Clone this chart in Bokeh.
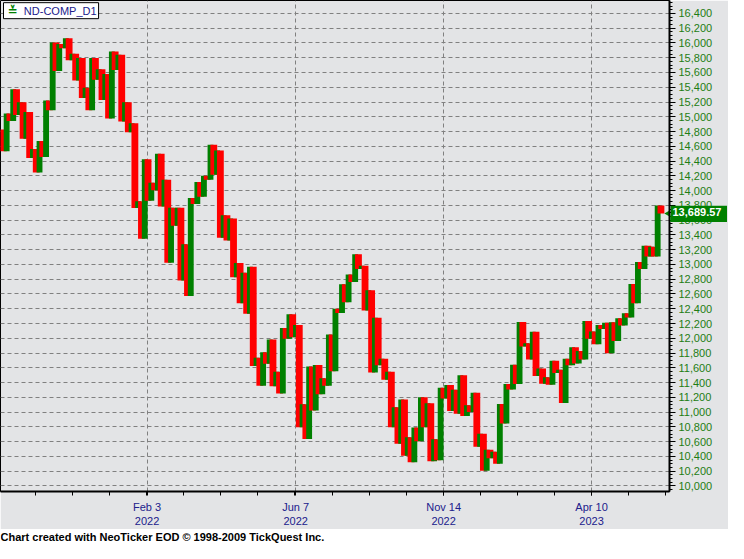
import numpy as np
from bokeh.plotting import figure
from bokeh.models import Range1d, FixedTicker, Label, ColumnDataSource, NumeralTickFormatter
from bokeh.layouts import column
from bokeh.embed import file_html
from bokeh.resources import INLINE

# ---- data: alternating low / high turning points of consecutive bars ----
start_value = 14826
lows = [14533, 14942, 15023, 14703, 14441, 14244, 14454, 15089, 15621, 15928,
        15765, 15490, 15254, 15089, 15503, 15228, 14978, 15634, 14935, 14791,
        13764, 13348, 13864, 14004, 13785, 13024, 13523, 12784, 12574, 13820,
        13916, 14148, 14214, 13361, 13326, 12828, 12473, 12334, 11626, 11359,
        11656, 11351, 11254, 11993, 12014, 10795, 10637, 11023, 11241, 11359,
        11555, 12342, 12487, 12762, 12938, 12378, 11538, 11634, 11437, 10795,
        10572, 10410, 10323, 10607, 10795, 10336, 10349, 11184, 11014, 10978,
        10948, 11001, 10532, 10205, 10375, 10302, 10847, 11306, 11381, 11889,
        11713, 11490, 11385, 11372, 11529, 11123, 11634, 11660, 11713, 11993,
        11919, 12125, 11797, 11962, 12172, 12282, 12473, 12938, 13108, 13108]
highs = [15044, 15372, 15198, 15066, 14564, 14673, 15220, 16007, 15984, 16063,
         15853, 15797, 15394, 15797, 15643, 15578, 15883, 15840, 15198, 14913,
         13856, 14424, 14105, 14498, 14148, 13768, 13768, 13273, 13899, 14118,
         14201, 14620, 14542, 13667, 13624, 13020, 12889, 12968, 11735, 11810,
         11984, 11548, 12138, 12325, 12181, 11106, 11617, 11639, 11460, 12050,
         12400, 12732, 12863, 13138, 12981, 12649, 12277, 11722, 11548, 11066,
         11171, 10660, 10791, 11201, 11119, 10633, 11329, 11368, 11302, 11499,
         11092, 11263, 10708, 10489, 10463, 11110, 11381, 11643, 12220, 11932,
         12089, 11591, 11473, 11696, 11574, 11722, 11879, 11827, 12233, 12093,
         12181, 12211, 12216, 12273, 12338, 12736, 13034, 13253, 13239, 13798]
last_close = 13689.57

x_major = [43.7, 88.9, 133.9, 178.9]
x_major_labels = ["Feb 3\n2022", "Jun 7\n2022", "Nov 14\n2022", "Apr 10\n2023"]
x_minor_first, x_minor_step, x_minor_count = 9.8, 11.27, 18
y_ticks = list(range(10000, 16401, 200))
y_minor = list(range(9950, 16551, 50))

# ---- build the bar chain ----
chain = [start_value]
for lo, hi in zip(lows, highs):
    chain += [lo, hi]
chain.append(last_close)
chain = np.array(chain, dtype=float)
a, b = chain[:-1], chain[1:]
idx = np.arange(len(a))
up = b > a
w = np.where(up, 1.78, 2.08)
src = ColumnDataSource(dict(
    left=idx - w / 2, right=idx + w / 2,
    top=np.maximum(a, b), bottom=np.minimum(a, b),
    color=["#008000" if u else "#ff0000" for u in up]))

BG = "#e3e4e6"
NAVY = "#20208c"
GREEN_TXT = "#1e7d14"
FONT = "Liberation Sans"

W, H_MAIN = 728, 529
FW, FH = 669, 492
X0, X1 = -0.87, 202.6
Y0, Y1 = 9925.2, 16574.6
px_x = (X1 - X0) / FW
px_y = (Y1 - Y0) / FH

p = figure(width=W, height=H_MAIN, x_range=Range1d(X0, X1), y_range=Range1d(Y0, Y1),
           output_backend="svg", toolbar_location=None, y_axis_location="right",
           min_border_left=0, min_border_top=0, min_border_right=W - FW,
           min_border_bottom=H_MAIN - FH,
           background_fill_color=BG, border_fill_color=BG,
           outline_line_color="black", outline_line_width=1)

p.quad(source=src, left="left", right="right", top="top", bottom="bottom",
       fill_color="color", line_color=None)

# pointer of the last-price tag at the frame's right edge
p.scatter(x=[X1], y=[last_close], marker="triangle", angle=np.pi / 2, size=9,
          fill_color="#008000", line_color=None)

# grid
for g in (p.xgrid, p.ygrid):
    g.grid_line_color = "#808080"
    g.grid_line_dash = "4 3"
    g.grid_line_width = 1

# x axis
xa = p.xaxis[0]
xa.ticker = FixedTicker(ticks=x_major,
                        minor_ticks=[x_minor_first + x_minor_step * m for m in range(x_minor_count)])
xa.major_label_overrides = {t: lab for t, lab in zip(x_major, x_major_labels)}
xa.axis_line_width = 2
xa.axis_line_color = "black"
xa.major_tick_out = 4
xa.minor_tick_out = 4
xa.major_tick_in = 0
xa.minor_tick_in = 0
xa.major_tick_line_color = "black"
xa.minor_tick_line_color = "black"
xa.major_label_standoff = 5
xa.major_label_text_font = FONT
xa.major_label_text_font_size = "11px"
xa.major_label_text_color = NAVY

# y axis
ya = p.yaxis[0]
ya.ticker = FixedTicker(ticks=y_ticks, minor_ticks=y_minor)
ya.formatter = NumeralTickFormatter(format="0,0")
ya.axis_line_width = 2
ya.axis_line_color = "black"
ya.major_tick_out = 6
ya.minor_tick_out = 3
ya.major_tick_in = 0
ya.minor_tick_in = 0
ya.major_tick_line_color = "black"
ya.minor_tick_line_color = "black"
ya.major_label_standoff = 3
ya.major_label_text_font = FONT
ya.major_label_text_font_size = "11px"
ya.major_label_text_color = GREEN_TXT

# legend box
NB = "\u00a0"
p.add_layout(Label(x=X0 + 3 * px_x, y=Y1 - 10.2 * px_y, text=NB * 6 + "ND-COMP_D1",
                   text_baseline="middle", text_align="left",
                   text_font=FONT, text_font_size="11px", text_color=NAVY,
                   background_fill_color="white", border_line_color="black",
                   border_line_width=1, padding=2))
p.add_layout(Label(x=X0 + 7 * px_x, y=Y1 - 10.2 * px_y, text="\u225a",
                   text_baseline="middle", text_align="left",
                   text_font="DejaVu Sans", text_font_size="12px",
                   text_font_style="bold", text_color="#008000"))

# last-price tag, laid over the right axis area at the last close's height
TAG_W, TAG_H = 57, 17
tag_center = (Y1 - last_close) / px_y
tag_top = int(round(tag_center - TAG_H / 2))
tag = figure(width=TAG_W, height=TAG_H, x_range=Range1d(0, 1), y_range=Range1d(0, 1),
             output_backend="svg", toolbar_location=None, min_border=0,
             x_axis_location=None, y_axis_location=None,
             background_fill_color="#008000", border_fill_color="#008000",
             outline_line_color=None, title=f"{last_close:,.2f}")
tag.grid.visible = False
tag.title.align = "left"
tag.title.offset = 4
tag.title.text_color = "white"
tag.title.text_font = FONT
tag.title.text_font_size = "11px"
tag.title.text_font_style = "bold"
tag.title.standoff = 0
tag.margin = (-(H_MAIN - tag_top), 0, H_MAIN - tag_top - TAG_H, W - TAG_W - 1)

# credit strip
c = figure(width=W, height=14, x_range=Range1d(0, W), y_range=Range1d(0, 14),
           output_backend="svg", toolbar_location=None, min_border=0,
           x_axis_location=None, y_axis_location=None,
           background_fill_color="white", border_fill_color="white",
           outline_line_color=None)
c.grid.visible = False
c.add_layout(Label(x=0, y=7, text="Chart created with NeoTicker EOD \u00a9 1998-2009 TickQuest Inc.",
                   text_baseline="middle", text_align="left", text_font=FONT,
                   text_font_size="11px", text_font_style="bold", text_color="black"))

layout = column(p, tag, c, spacing=0)
open("out.html", "w").write(file_html(layout, INLINE))
